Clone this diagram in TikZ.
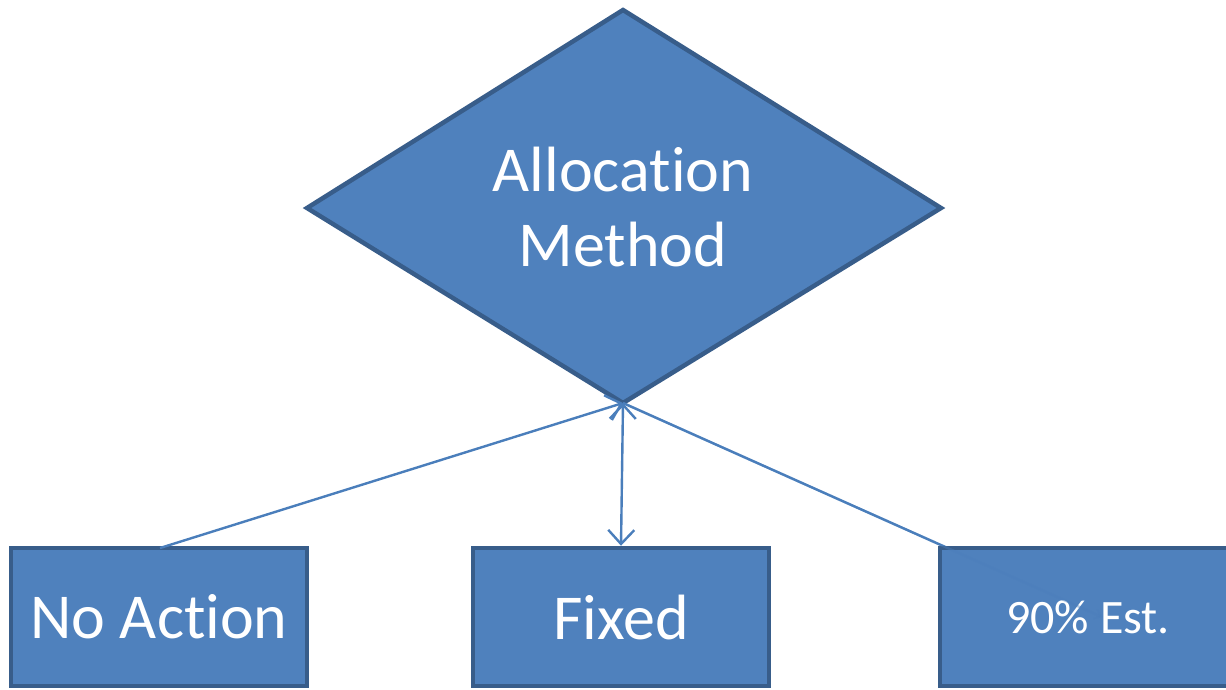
\documentclass[tikz,border=0pt]{standalone}
\usepackage{fontspec}
\setmainfont{Carlito}[Ligatures=NoCommon]
\usetikzlibrary{arrows.meta}
\definecolor{boxfill}{HTML}{4F81BD}
\definecolor{boxedge}{HTML}{385D8A}
\definecolor{linkcol}{HTML}{4A7EBB}
\tikzset{
  shapeedge/.style={draw=boxedge, line width=4.5pt, fill=boxfill, line join=miter},
  choice/.style={shapeedge, rectangle, minimum width=296pt, minimum height=138pt,
                 inner sep=0pt, text=white, font=\fontsize{64}{77}\selectfont},
  link/.style={draw=linkcol, line width=2.4pt},
  barb/.tip={Straight Barb[length=14pt,width=26pt,line width=2.4pt]},
  smallbarb/.tip={Straight Barb[length=6pt,width=10pt,line width=1.5pt]},
}
\begin{document}
\begin{tikzpicture}[x=1pt, y=-1pt]
\useasboundingbox (0,0) rectangle (1226,689);

% decision diamond
\coordinate (dtop) at (623,10);
\coordinate (dleft) at (307,208);
\coordinate (dright) at (941,208);
\coordinate (dbot) at (623,403);
\path[shapeedge] (dtop) -- (dright) -- (dbot) -- (dleft) -- cycle;
\node[text=white, align=center, font=\fontsize{64}{75}\selectfont] (decision) at (623,207)
  {Allocation\\Method};

% outcome boxes
\node[choice] (noaction) at (159,617) {No Action};
\node[choice] (fixed) at (621,617) {Fixed};
\coordinate (estend) at (1102,617);
\draw[link] (dbot) -- (estend);
\node[choice, font=\fontsize{48}{58}\selectfont] (est) at (1088,617) {90\% Est.};
\draw[link, opacity=0.4, -smallbarb] (dbot) -- (estend);

% connectors
\coordinate (nafoot) at (160,548);
\draw[link, -barb] (nafoot) -- (dbot);
\draw[link, barb-barb] (dbot) -- (fixed.north);
\end{tikzpicture}
\end{document}
